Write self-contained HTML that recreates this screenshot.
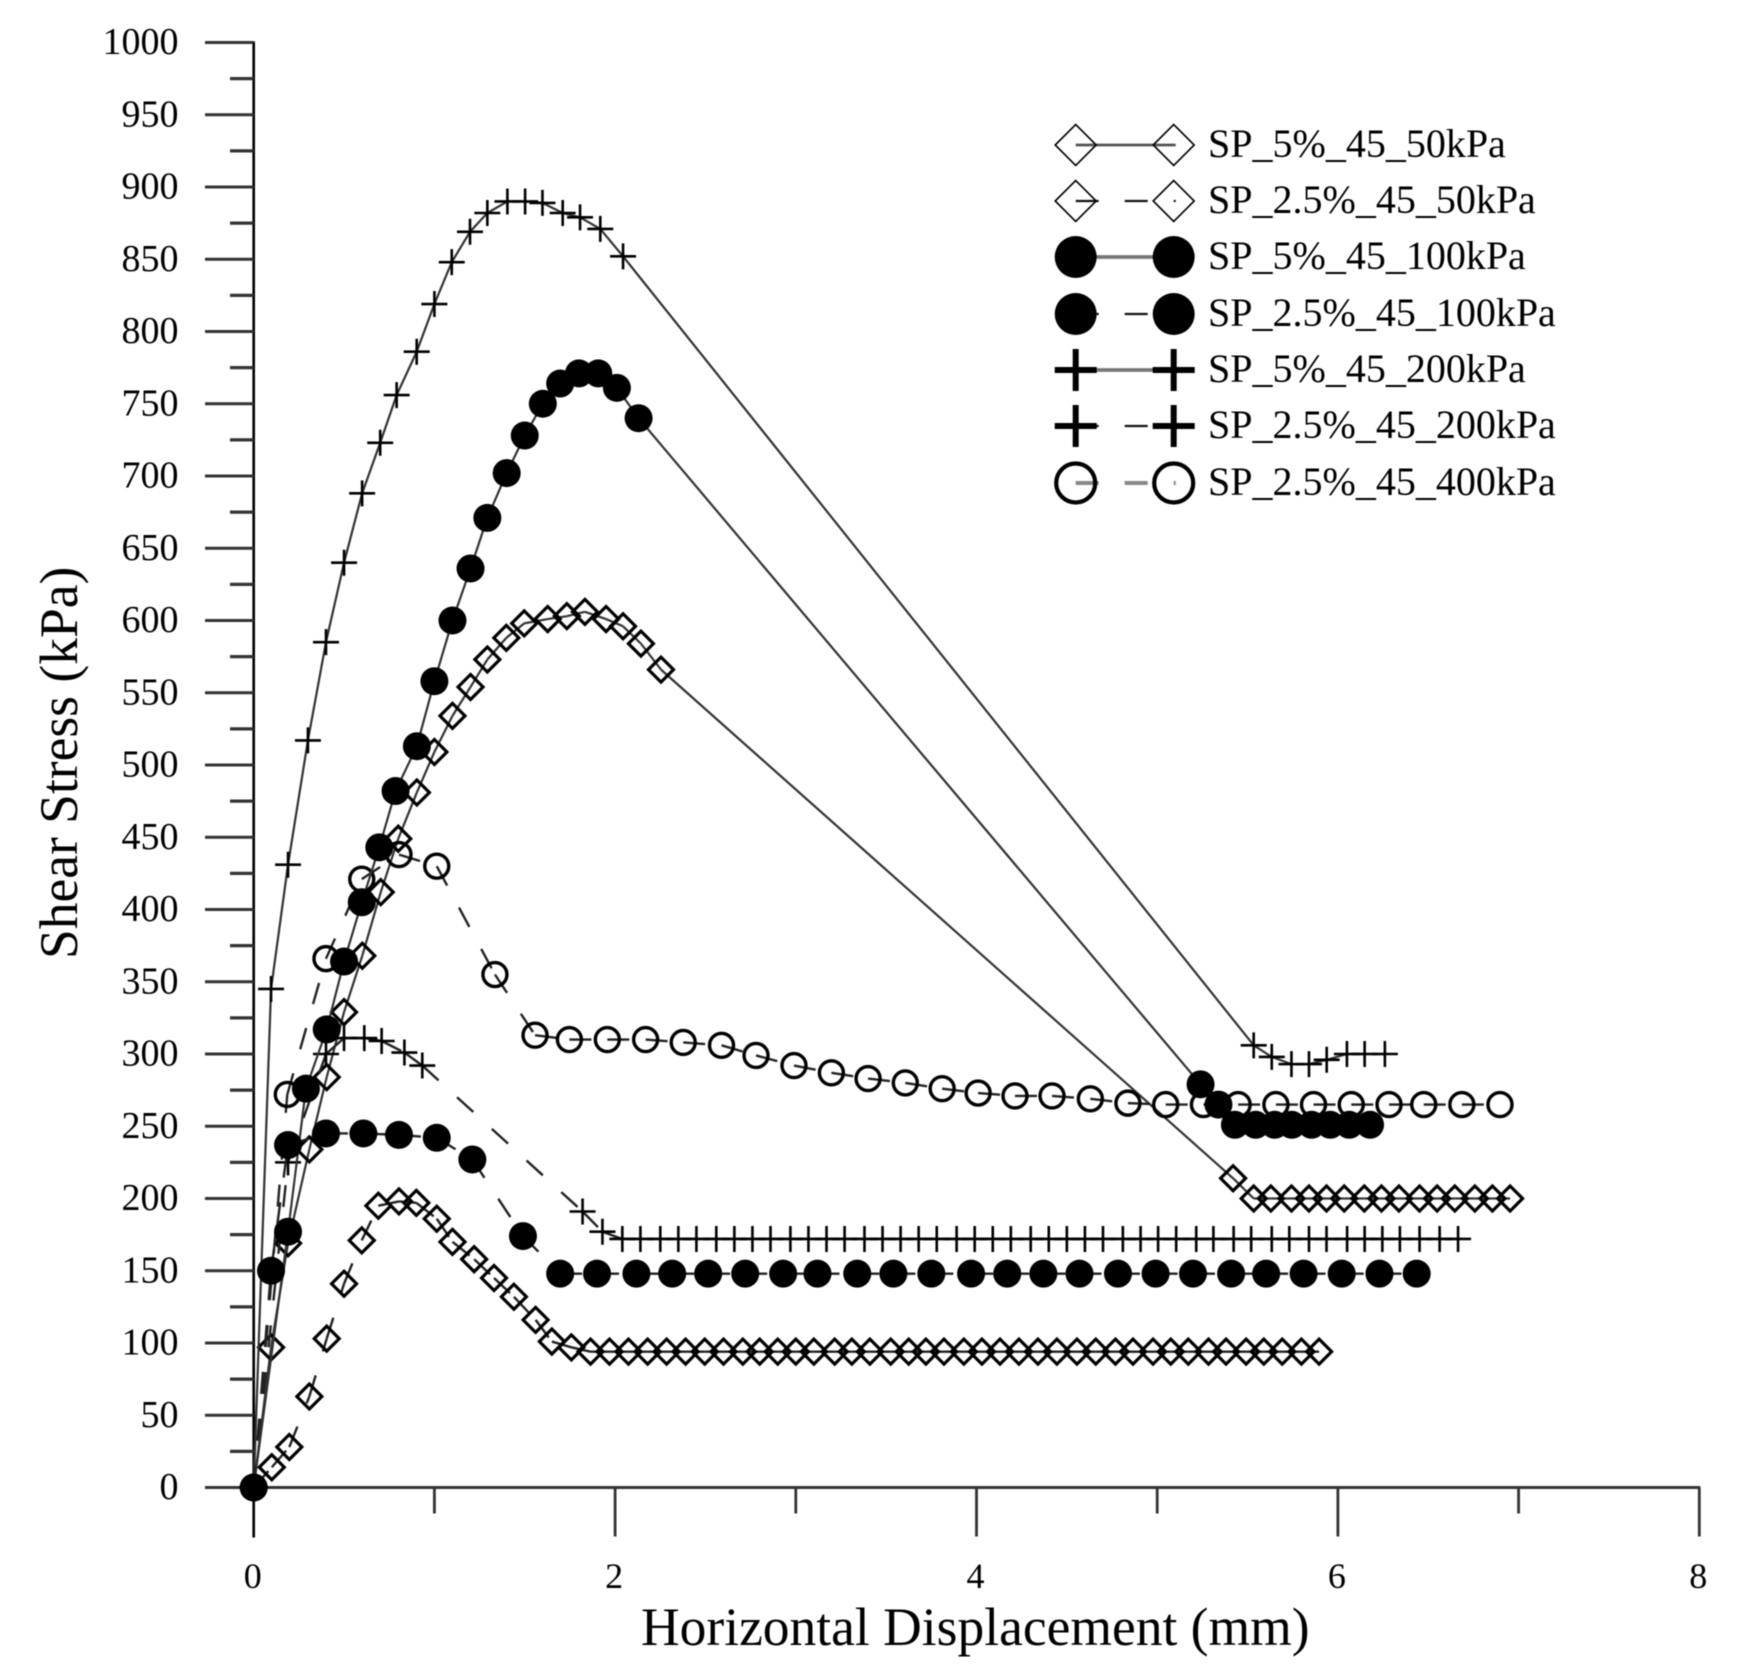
<!DOCTYPE html>
<html lang="en">
<head>
<meta charset="utf-8">
<title>Shear Stress vs Horizontal Displacement</title>
<style>
html,body{margin:0;padding:0;background:#fff;}
#chart{display:block;width:1757px;height:1670px;filter:blur(0.6px);}
text{font-family:"Liberation Serif",serif;fill:#000;}
</style>
</head>
<body>
<svg id="chart" xmlns="http://www.w3.org/2000/svg" width="1757" height="1670" viewBox="0 0 1757 1670">
  <g id="axes"></g>
  <g id="plot"></g>
  <g id="legend"></g>
  <text x="641" y="1645" font-size="53.5">Horizontal Displacement (mm)</text>
  <text transform="translate(77,959) rotate(-90)" x="0" y="0" font-size="53.5">Shear Stress (kPa)</text>
</svg>
<script>
const xTickLabels = ["0","2","4","6","8"];
const yTickLabels = ["0","50","100","150","200","250","300","350","400","450","500","550","600","650","700","750","800","850","900","950","1000"];

const sp5_50_x = [0,0.096,0.19,0.308,0.404,0.5,0.601,0.703,0.8,0.903,1.0,1.1,1.2,1.293,1.398,1.497,1.627,1.733,1.833,1.95,2.044,2.143,2.254,5.42,5.534,5.629,5.743,5.84,5.937,6.035,6.146,6.241,6.338,6.452,6.549,6.647,6.758,6.855,6.953];
const sp5_50_y = [0,97,169,234,284,329,368,412,449,481,509,534,554,573,588,598,601,603,606,601,596,584,566,214,200,200,200,200,200,200,200,200,200,200,200,200,200,200,200];

const sp25_50_x = [0,0.1,0.197,0.308,0.404,0.5,0.598,0.69,0.804,0.9,1.013,1.1,1.22,1.33,1.44,1.56,1.65,1.758,1.864,1.969,2.074,2.18,2.285,2.39,2.496,2.6,2.707,2.8,2.9,3.0,3.1,3.215,3.31,3.41,3.525,3.625,3.72,3.82,3.93,4.03,4.13,4.235,4.34,4.445,4.556,4.66,4.769,4.866,4.977,5.075,5.172,5.284,5.381,5.492,5.59,5.692,5.798,5.896];
const sp25_50_y = [0,14,28,63,103,141,171,195,198,197,186,170,158,145,132,116,101,97,94,94,94,94,94,94,94,94,94,94,94,94,94,94,94,94,94,94,94,94,94,94,94,94,94,94,94,94,94,94,94,94,94,94,94,94,94,94,94,94];

const sp5_100_x = [0,0.19,0.289,0.404,0.5,0.598,0.695,0.785,0.903,1.0,1.1,1.2,1.293,1.4,1.5,1.6,1.696,1.8,1.907,2.01,2.13,5.24,5.339,5.43,5.545,5.65,5.745,5.854,5.958,6.063,6.178];
const sp5_100_y = [0,177,276,317,364,405,443,482,513,558,600,636,671,702,728,750,764,771,771,761,740,279,265,251,251,251,251,251,251,251,251];

const sp25_100_x = [0,0.096,0.19,0.4,0.607,0.804,1.013,1.21,1.49,1.696,1.9,2.118,2.316,2.515,2.72,2.93,3.12,3.34,3.54,3.75,3.97,4.17,4.37,4.57,4.783,4.991,5.198,5.409,5.603,5.81,6.021,6.23,6.436];
const sp25_100_y = [0,150,237,245,245,244,242,227,174,148,148,148,148,148,148,148,148,148,148,148,148,148,148,148,148,148,148,148,148,148,148,148,148];

const sp5_200_x = [0,0.096,0.19,0.3,0.4,0.5,0.6,0.7,0.791,0.902,1.0,1.096,1.197,1.293,1.404,1.502,1.598,1.71,1.806,1.918,2.044,5.534,5.634,5.743,5.84,5.938,6.05,6.148,6.26];
const sp5_200_y = [0,345,431,517,585,640,688,723,756,786,819,848,869,882,890,890,889,882,879,871,852,306,298,293,293,296,300,300,300];

const sp25_200_x = [0,0.19,0.4,0.5,0.612,0.708,0.834,0.933,1.82,1.93,2.04,2.14,2.25,2.35,2.45,2.56,2.66,2.76,2.86,2.97,3.07,3.17,3.27,3.38,3.48,3.58,3.68,3.78,3.89,3.99,4.09,4.19,4.3,4.4,4.5,4.6,4.7,4.81,4.908,5.005,5.105,5.216,5.311,5.423,5.52,5.634,5.731,5.84,5.937,6.051,6.148,6.246,6.343,6.452,6.563,6.665];
const sp25_200_y = [0,225,300,311,311,309,301,292,191,177,172,172,172,172,172,172,172,172,172,172,172,172,172,172,172,172,172,172,172,172,172,172,172,172,172,172,172,172,172,172,172,172,172,172,172,172,172,172,172,172,172,172,172,172,172,172];

const sp25_400_x = [0,0.186,0.4,0.598,0.804,1.013,1.335,1.557,1.747,1.957,2.169,2.377,2.589,2.78,2.99,3.197,3.4,3.606,3.81,4.009,4.213,4.418,4.63,4.838,5.047,5.256,5.448,5.657,5.865,6.074,6.283,6.475,6.686,6.897];
const sp25_400_y = [0,272,366,421,438,430,355,313,310,310,310,308,306,299,292,287,283,280,276,273,271,271,269,266,265,265,265,265,265,265,265,265,265,265];

const seriesNames = ["SP_5%_45_50kPa","SP_2.5%_45_50kPa","SP_5%_45_100kPa","SP_2.5%_45_100kPa","SP_5%_45_200kPa","SP_2.5%_45_200kPa","SP_2.5%_45_400kPa"];

const NS = "http://www.w3.org/2000/svg";
function X(v){ return 253.7 + 180.7 * v; }
function Y(v){ return 1487.5 - 1.445 * v; }
function mk(tag, attrs, parent){
  const el = document.createElementNS(NS, tag);
  for (const k in attrs) el.setAttribute(k, attrs[k]);
  parent.appendChild(el);
  return el;
}
const axes = document.getElementById("axes");
const plot = document.getElementById("plot");
const legend = document.getElementById("legend");

const xAxisLine = mk("line",{x1:205,y1:Y(0),x2:X(8)+1,y2:Y(0),stroke:"#333","stroke-width":3},axes);


const yAxisLine = mk("line",{x1:X(0),y1:Y(1000)-1,x2:X(0),y2:Y(0)+50,stroke:"#000","stroke-width":2.6},axes);



for (let i = 0; i < yTickLabels.length; i++) {
  const v = Number(yTickLabels[i]);
  const t = mk("line",{x1:205,y1:Y(v),x2:X(0),y2:Y(v),stroke:"#333","stroke-width":3},axes);
  
  
  const lab = mk("text",{x:178.5,y:Y(v)+11.5,"font-size":38,"text-anchor":"end"},axes);
  lab.textContent = yTickLabels[i];
  
  
  if (i < yTickLabels.length - 1) {
    const mv = v + 25;
    const m = mk("line",{x1:230,y1:Y(mv),x2:X(0),y2:Y(mv),stroke:"#333","stroke-width":3.2},axes);
    
    
  }
}
for (let i = 0; i < xTickLabels.length; i++) {
  const v = Number(xTickLabels[i]);
  if (v > 0) {
    const t = mk("line",{x1:X(v),y1:Y(0),x2:X(v),y2:Y(0)+49,stroke:"#333","stroke-width":2.8},axes);
    
    
  }
  if (i < xTickLabels.length - 1) {
    const m = mk("line",{x1:X(v+1),y1:Y(0),x2:X(v+1),y2:Y(0)+26,stroke:"#333","stroke-width":2.8},axes);
    
    
  }
  const lab = mk("text",{x:X(v)-1,y:1588,"font-size":36,"text-anchor":"middle"},axes);
  lab.textContent = xTickLabels[i];
  
  
}

function marker(kind, x, y, parent, s, sw){
  let el;
  if (kind === "diamond") {
    el = mk("polygon",{points:(x-s)+","+y+" "+x+","+(y-s)+" "+(x+s)+","+y+" "+x+","+(y+s),fill:"none",stroke:"#000","stroke-width":sw},parent);
  } else if (kind === "disc") {
    el = mk("circle",{cx:x,cy:y,r:s,fill:"#000"},parent);
  } else if (kind === "ring") {
    el = mk("circle",{cx:x,cy:y,r:s,fill:"none",stroke:"#000","stroke-width":sw},parent);
  } else {
    el = mk("path",{d:"M"+(x-s)+" "+y+"H"+(x+s)+"M"+x+" "+(y-s)+"V"+(y+s),fill:"none",stroke:"#000","stroke-width":sw},parent);
  }
  return el;
}

function drawSeries(xs, ys, dashed, kind, s, sw, lineName, markName){
  const g = mk("g",{},plot);
  
  
  for (let i = 0; i < xs.length - 1; i++) {
    const seg = mk("line",{x1:X(xs[i]),y1:Y(ys[i]),x2:X(xs[i+1]),y2:Y(ys[i+1]),stroke:dashed?"#222":"#333","stroke-width":dashed?2.4:2.2},g);
    if (dashed) seg.setAttribute("stroke-dasharray","22 25");
    
    
  }
  for (let i = 0; i < xs.length; i++) {
    const m = marker(kind, X(xs[i]), Y(ys[i]), g, s, sw);
    
    
  }
}

drawSeries(sp5_50_x, sp5_50_y, false, "diamond", 12.5, 3.2, "series-sp5-50kpa", "point-sp5-50kpa");
drawSeries(sp25_50_x, sp25_50_y, true, "diamond", 12.5, 3.2, "series-sp25-50kpa", "point-sp25-50kpa");
drawSeries(sp25_400_x, sp25_400_y, true, "ring", 12, 3.4, "series-sp25-400kpa", "point-sp25-400kpa");
drawSeries(sp5_200_x, sp5_200_y, false, "cross", 13, 2.6, "series-sp5-200kpa", "point-sp5-200kpa");
drawSeries(sp25_200_x, sp25_200_y, true, "cross", 13, 2.6, "series-sp25-200kpa", "point-sp25-200kpa");
drawSeries(sp5_100_x, sp5_100_y, false, "disc", 14, 0, "series-sp5-100kpa", "point-sp5-100kpa");
drawSeries(sp25_100_x, sp25_100_y, true, "disc", 14, 0, "series-sp25-100kpa", "point-sp25-100kpa");

const legendKinds = ["diamond","diamond","disc","disc","cross","cross","ring"];
const legendDashed = [false,true,false,true,false,true,true];
const legendSizes = [20.5,20.5,21,21,21,21,19.5];
const legendStrokes = [1.6,1.6,0,0,6,6,4.2];
const legendLineColors = ["#555","#111","#777","#111","#777","#111","#888"];
const legendLineWidths = [2.8,2.2,3.8,2.2,3.8,2.2,4];
const legendRowY = [145,201,257,314,370,426,483];
for (let i = 0; i < seriesNames.length; i++) {
  const y = legendRowY[i];
  const entry = mk("g",{},legend);
  
  
  const ln = mk("line",{x1:1075.7,y1:y,x2:1175.7,y2:y,stroke:legendLineColors[i],"stroke-width":legendLineWidths[i]},entry);
  if (legendDashed[i]) ln.setAttribute("stroke-dasharray","23 26");
  
  
  const m1 = marker(legendKinds[i], 1075.7, y, entry, legendSizes[i], legendStrokes[i]);
  
  
  const m2 = marker(legendKinds[i], 1173.7, y, entry, legendSizes[i], legendStrokes[i]);
  
  
  const tx = mk("text",{x:1208,y:y+12,"font-size":40},entry);
  tx.textContent = seriesNames[i];
  
  
}
</script>
</body>
</html>
